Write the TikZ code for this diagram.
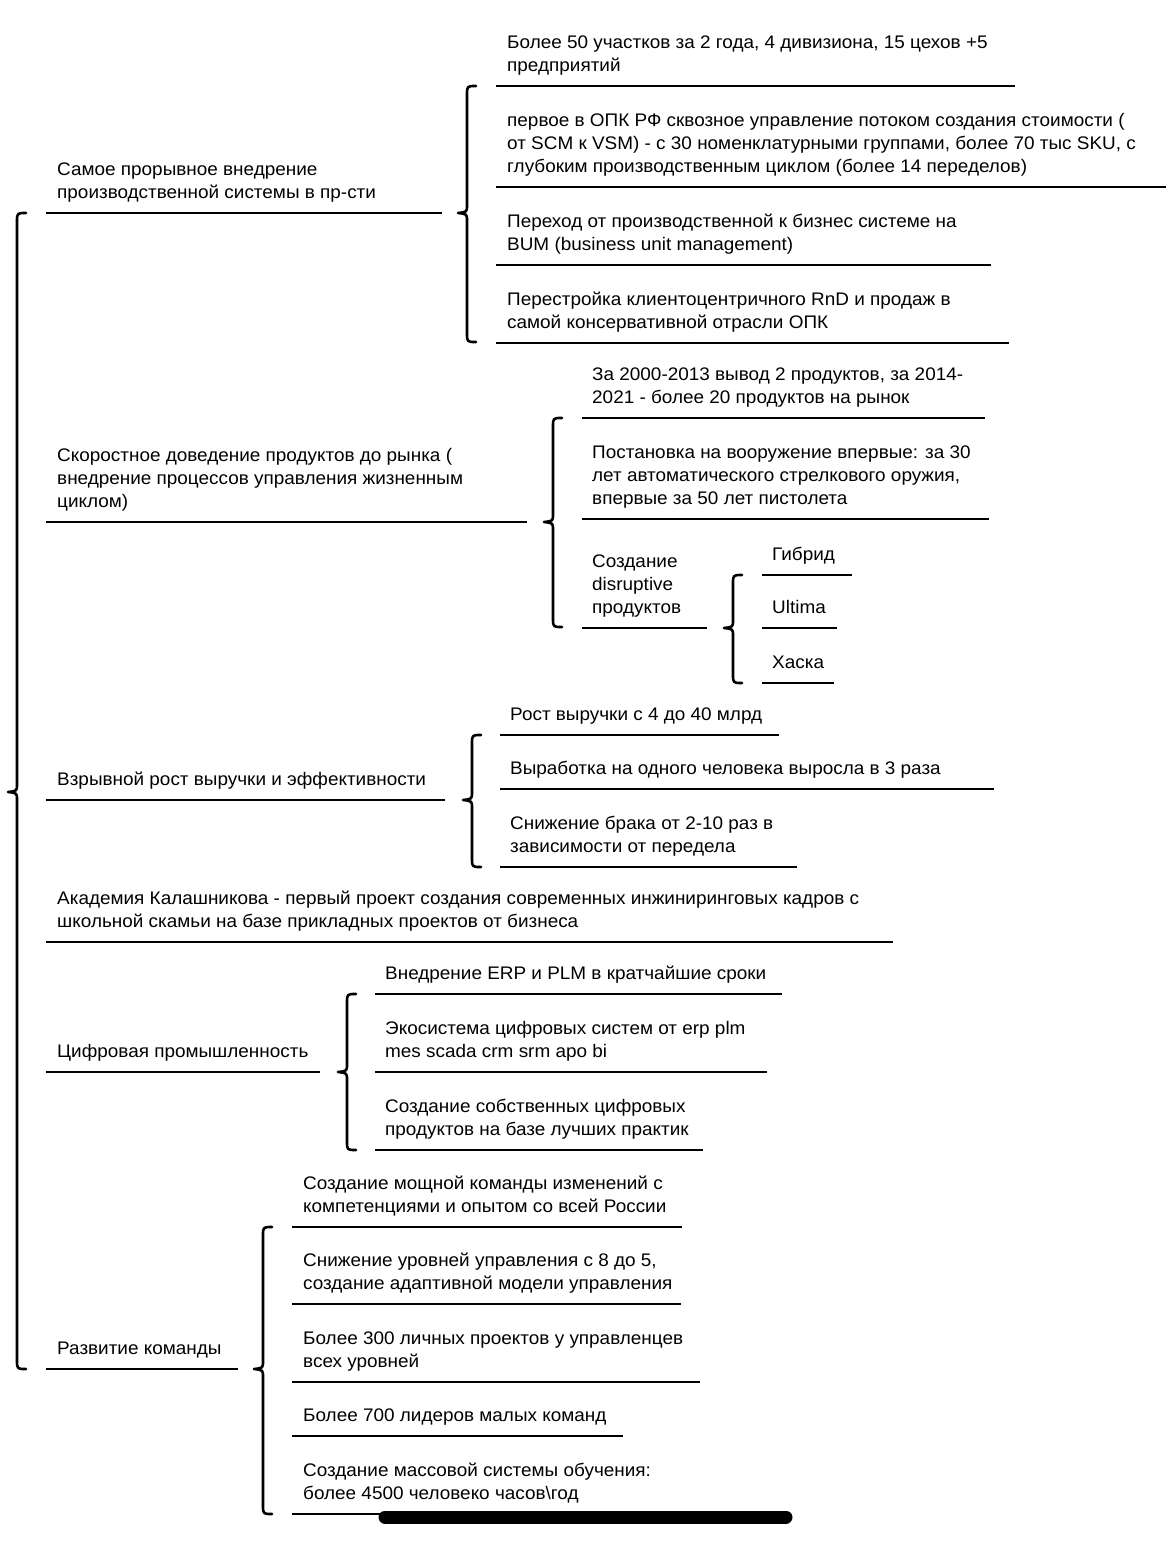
\documentclass[tikz,border=0pt]{standalone}
\usepackage{fontspec}
\setmainfont{Liberation Sans}[FakeStretch=1.04]
\newcommand\entry[6]{%
  \node[txt] (#1) at (#2,#5-14) {#6};
  \coordinate (#1-l) at (#3,#5);
  \coordinate (#1-r) at (#4,#5);
  \draw[ul] (#1-l) -- (#1-r);
}
\newcommand\curly[4]{%
  \draw[brc] (#1+9,#2) .. controls (#1,#2) .. (#1,#2+9) -- (#1,#3-8)
    .. controls (#1,#3-1) .. (#1-9,#3) .. controls (#1,#3+1) .. (#1,#3+8)
    -- (#1,#4-9) .. controls (#1,#4) .. (#1+9,#4);}
\begin{document}
\begin{tikzpicture}[x=1pt,y=-1pt,
  txt/.style={anchor=south west, inner sep=0pt, text depth=0pt, align=left,
    font=\fontsize{18.2}{23}\selectfont},
  ul/.style={line width=2.6pt},
  brc/.style={line width=2.6pt, line cap=round, line join=round}]
\useasboundingbox[fill=white] (0,0) rectangle (1170,1549);

% main brace
\curly{17}{213}{792}{1369}

% level 1
\entry{r1}{57}{46}{442}{213}{Самое прорывное внедрение\\производственной системы в пр-сти}
\entry{r2}{57}{46}{527}{522}{Скоростное доведение продуктов до рынка (\\внедрение процессов управления жизненным\\циклом)}
\entry{r3}{57}{46}{445}{800}{Взрывной рост выручки и эффективности}
\entry{r4}{57}{46}{893}{942}{Академия Калашникова - первый проект создания современных инжиниринговых кадров с\\школьной скамьи на базе прикладных проектов от бизнеса}
\entry{r5}{57}{46}{320}{1072}{Цифровая промышленность}
\entry{r6}{57}{46}{238}{1369}{Развитие команды}

% group 1
\curly{467}{86}{213}{342}
\entry{a1}{507}{496}{1015}{86}{Более 50 участков за 2 года, 4 дивизиона, 15 цехов +5\\предприятий}
\entry{a2}{507}{496}{1166}{187}{первое в ОПК РФ сквозное управление потоком создания стоимости (\\от SCM к VSM) - с 30 номенклатурными группами, более 70 тыс SKU, с\\глубоким производственным циклом (более 14 переделов)}
\entry{a3}{507}{496}{991}{265}{Переход от производственной к бизнес системе на\\BUM (business unit management)}
\entry{a4}{507}{496}{1009}{343}{Перестройка клиентоцентричного RnD и продаж в\\самой консервативной отрасли ОПК}

% group 2
\curly{553}{418}{522}{627}
\entry{b1}{592}{582}{985}{418}{За 2000-2013 вывод 2 продуктов, за 2014-\\2021 - более 20 продуктов на рынок}
\entry{b2}{592}{582}{989}{519}{Постановка на вооружение впервые: за 30\\лет автоматического стрелкового оружия,\\впервые за 50 лет пистолета}
\entry{b3}{592}{582}{707}{628}{Создание\\disruptive\\продуктов}

% group 2c
\curly{733}{575}{628}{683}
\entry{c1}{772}{762}{852}{575}{Гибрид}
\entry{c2}{772}{762}{837}{628}{Ultima}
\entry{c3}{772}{762}{834}{683}{Хаска}

% group 3
\curly{472}{735}{800}{867}
\entry{d1}{510}{500}{779}{735}{Рост выручки с 4 до 40 млрд}
\entry{d2}{510}{500}{994}{789}{Выработка на одного человека выросла в 3 раза}
\entry{d3}{510}{500}{797}{867}{Снижение брака от 2-10 раз в\\зависимости от передела}

% group 5
\curly{347}{994}{1072}{1150}
\entry{e1}{385}{375}{782}{994}{Внедрение ERP и PLM в кратчайшие сроки}
\entry{e2}{385}{375}{767}{1072}{Экосистема цифровых систем от erp plm\\mes scada crm srm apo bi}
\entry{e3}{385}{375}{703}{1150}{Создание собственных цифровых\\продуктов на базе лучших практик}

% group 6
\curly{263}{1227}{1369}{1514}
\entry{f1}{303}{292}{682}{1227}{Создание мощной команды изменений с\\компетенциями и опытом со всей России}
\entry{f2}{303}{292}{681}{1304}{Снижение уровней управления с 8 до 5,\\создание адаптивной модели управления}
\entry{f3}{303}{292}{700}{1382}{Более 300 личных проектов у управленцев\\всех уровней}
\entry{f4}{303}{292}{623}{1436}{Более 700 лидеров малых команд}
\entry{f5}{303}{292}{680}{1514}{Создание массовой системы обучения:\\более 4500 человеко часов\textbackslash год}

% home indicator bar
\coordinate (bar-l) at (385,1517);
\coordinate (bar-r) at (786,1517);
\draw[line width=13pt, line cap=round] (bar-l) -- (bar-r);
\end{tikzpicture}
\end{document}
